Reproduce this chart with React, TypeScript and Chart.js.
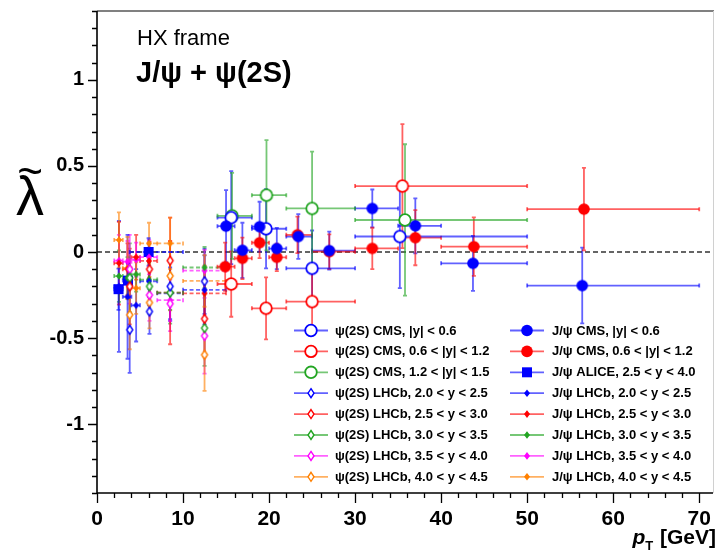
import React, { useEffect, useRef } from 'react';
import { Chart, registerables } from 'chart.js';
Chart.register(...registerables);

const FONT = '"Liberation Sans", Arial, Helvetica, sans-serif';

const BLUE = '#0000ff';
const RED = '#ff0000';
const GREEN = '#22a522';
const MAGENTA = '#ff00ff';
const ORANGE = '#ff8000';

// axis ticks
const xTickValues = [0, 10, 20, 30, 40, 50, 60, 70];
const yTickValues = [-1, -0.5, 0, 0.5, 1];
const X_MIN = 0, X_MAX = 71.6, Y_MIN = -1.4, Y_MAX = 1.4;

// ---- CMS psi(2S) ----
const psiCmsLo = [14, 18, 22, 30];
const psiCmsHi = [18, 22, 30, 50];
const psiCms06X = [15.6, 19.65, 25.0, 35.2];
const psiCms06Val = [0.2, 0.135, -0.095, 0.09];
const psiCms06Err = [0.27, 0.23, 0.22, 0.3];
const psiCms12X = [15.6, 19.65, 25.0, 35.5];
const psiCms12Val = [-0.186, -0.327, -0.288, 0.383];
const psiCms12Err = [0.19, 0.18, 0.17, 0.36];
const psiCms15X = [15.7, 19.7, 25.0, 35.8];
const psiCms15Val = [0.21, 0.33, 0.253, 0.186];
const psiCms15Err = [0.25, 0.32, 0.33, 0.44];

// ---- CMS J/psi ----
const jpsiCmsLo = [14, 16, 18, 20, 22, 25, 30, 35, 40, 50];
const jpsiCmsHi = [16, 18, 20, 22, 25, 30, 35, 40, 50, 70];
const jpsiCms06X = [15.0, 16.9, 18.9, 20.9, 23.4, 27.0, 32.0, 37.0, 43.7, 56.4];
const jpsiCms06Val = [0.15, 0.01, 0.147, 0.02, 0.09, 0.008, 0.253, 0.152, -0.066, -0.195];
const jpsiCms06Err = [0.21, 0.16, 0.145, 0.12, 0.13, 0.11, 0.11, 0.16, 0.16, 0.22];
const jpsiCms12X = [14.9, 16.9, 18.9, 20.9, 23.3, 27.0, 32.0, 37.0, 43.8, 56.6];
const jpsiCms12Val = [-0.085, -0.037, 0.054, -0.031, 0.1, 0.002, 0.021, 0.083, 0.031, 0.249];
const jpsiCms12Err = [0.14, 0.12, 0.09, 0.08, 0.106, 0.1, 0.12, 0.16, 0.17, 0.24];

// ---- ALICE J/psi ----
const aliceLo = [2, 3, 3.8];
const aliceHi = [3, 4, 10];
const aliceX = [2.5, 3.6, 6.0];
const aliceVal = [-0.216, -0.166, 0.0];
const aliceErr = [0.12, 0.1, 0.08];

// ---- LHCb J/psi ----
const jpsiLhcbLo = [2, 3, 4, 5, 7, 10];
const jpsiLhcbHi = [3, 4, 5, 7, 10, 15];
const jpsiLhcbX = [2.55, 3.55, 4.55, 6.05, 8.5, 12.5];
const jpsiLhcb20Val = [-0.2, -0.26, -0.31, -0.17, -0.24, -0.22];
const jpsiLhcb20Err = [0.38, 0.36, 0.21, 0.14, 0.15, 0.2];
const jpsiLhcb25Val = [-0.065, -0.1, -0.03, -0.052, -0.236, -0.24];
const jpsiLhcb25Err = [0.24, 0.15, 0.13, 0.1, 0.3, 0.16];
const jpsiLhcb30Val = [-0.14, -0.15, -0.13, -0.16, -0.236, -0.09];
const jpsiLhcb30Err = [0.15, 0.12, 0.1, 0.1, 0.1, 0.12];
const jpsiLhcb35Val = [-0.05, -0.056, -0.045, -0.03, -0.28, -0.108];
const jpsiLhcb35Err = [0.15, 0.12, 0.1, 0.1, 0.12, 0.12];
const jpsiLhcb40Val = [0.07, -0.093, -0.21, 0.05, 0.05, -0.168];
const jpsiLhcb40Err = [0.16, 0.18, 0.15, 0.12, 0.15, 0.15];

// ---- LHCb psi(2S) (no horizontal error bars drawn) ----
const psiLhcbX = [3.8, 6.1, 8.5, 12.5];
const psiLhcbLo = [3.8, 6.1, 8.5, 12.5];
const psiLhcbHi = [3.8, 6.1, 8.5, 12.5];
const psiLhcb20Val = [-0.452, -0.346, -0.2, -0.17];
const psiLhcb20Err = [0.25, 0.13, 0.2, 0.19];
const psiLhcb25Val = [-0.2, -0.1, -0.05, -0.388];
const psiLhcb25Err = [0.22, 0.16, 0.25, 0.22];
const psiLhcb30Val = [-0.15, -0.2, -0.236, -0.442];
const psiLhcb30Err = [0.2, 0.16, 0.18, 0.22];
const psiLhcb35Val = [-0.1, -0.25, -0.3, -0.487];
const psiLhcb35Err = [0.2, 0.15, 0.16, 0.22];
const psiLhcb40Val = [-0.365, -0.294, -0.139, -0.597];
const psiLhcb40Err = [0.2, 0.15, 0.2, 0.21];

type MStyle = 'open' | 'filled' | 'square' | 'openDiamond' | 'filledDiamond';
interface Series {
  key: string; label: string; color: string; style: MStyle; dashX: boolean;
  x: number[]; lo: number[]; hi: number[]; val: number[]; err: number[];
}

const S = (key: string, label: string, color: string, style: MStyle, dashX: boolean, x: number[], lo: number[], hi: number[], val: number[], err: number[]): Series =>
  ({ key, label, color, style, dashX, x, lo, hi, val, err });

const allSeries: Series[] = [
  S('pl20', 'ψ(2S) LHCb, 2.0 < y < 2.5', BLUE, 'openDiamond', false, psiLhcbX, psiLhcbLo, psiLhcbHi, psiLhcb20Val, psiLhcb20Err),
  S('pl25', 'ψ(2S) LHCb, 2.5 < y < 3.0', RED, 'openDiamond', false, psiLhcbX, psiLhcbLo, psiLhcbHi, psiLhcb25Val, psiLhcb25Err),
  S('pl30', 'ψ(2S) LHCb, 3.0 < y < 3.5', GREEN, 'openDiamond', false, psiLhcbX, psiLhcbLo, psiLhcbHi, psiLhcb30Val, psiLhcb30Err),
  S('pl35', 'ψ(2S) LHCb, 3.5 < y < 4.0', MAGENTA, 'openDiamond', false, psiLhcbX, psiLhcbLo, psiLhcbHi, psiLhcb35Val, psiLhcb35Err),
  S('pl40', 'ψ(2S) LHCb, 4.0 < y < 4.5', ORANGE, 'openDiamond', false, psiLhcbX, psiLhcbLo, psiLhcbHi, psiLhcb40Val, psiLhcb40Err),
  S('jl20', 'J/ψ LHCb, 2.0 < y < 2.5', BLUE, 'filledDiamond', true, jpsiLhcbX, jpsiLhcbLo, jpsiLhcbHi, jpsiLhcb20Val, jpsiLhcb20Err),
  S('jl25', 'J/ψ LHCb, 2.5 < y < 3.0', RED, 'filledDiamond', true, jpsiLhcbX, jpsiLhcbLo, jpsiLhcbHi, jpsiLhcb25Val, jpsiLhcb25Err),
  S('jl30', 'J/ψ LHCb, 3.0 < y < 3.5', GREEN, 'filledDiamond', true, jpsiLhcbX, jpsiLhcbLo, jpsiLhcbHi, jpsiLhcb30Val, jpsiLhcb30Err),
  S('jl35', 'J/ψ LHCb, 3.5 < y < 4.0', MAGENTA, 'filledDiamond', true, jpsiLhcbX, jpsiLhcbLo, jpsiLhcbHi, jpsiLhcb35Val, jpsiLhcb35Err),
  S('jl40', 'J/ψ LHCb, 4.0 < y < 4.5', ORANGE, 'filledDiamond', true, jpsiLhcbX, jpsiLhcbLo, jpsiLhcbHi, jpsiLhcb40Val, jpsiLhcb40Err),
  S('ja', 'J/ψ ALICE, 2.5 < y < 4.0', BLUE, 'square', true, aliceX, aliceLo, aliceHi, aliceVal, aliceErr),
  S('jc06', 'J/ψ CMS, |y| < 0.6', BLUE, 'filled', false, jpsiCms06X, jpsiCmsLo, jpsiCmsHi, jpsiCms06Val, jpsiCms06Err),
  S('jc12', 'J/ψ CMS, 0.6 < |y| < 1.2', RED, 'filled', false, jpsiCms12X, jpsiCmsLo, jpsiCmsHi, jpsiCms12Val, jpsiCms12Err),
  S('pc06', 'ψ(2S) CMS, |y| < 0.6', BLUE, 'open', false, psiCms06X, psiCmsLo, psiCmsHi, psiCms06Val, psiCms06Err),
  S('pc12', 'ψ(2S) CMS, 0.6 < |y| < 1.2', RED, 'open', false, psiCms12X, psiCmsLo, psiCmsHi, psiCms12Val, psiCms12Err),
  S('pc15', 'ψ(2S) CMS, 1.2 < |y| < 1.5', GREEN, 'open', false, psiCms15X, psiCmsLo, psiCmsHi, psiCms15Val, psiCms15Err),
];

const legendCol1 = ['pc06', 'pc12', 'pc15', 'pl20', 'pl25', 'pl30', 'pl35', 'pl40'];
const legendCol2 = ['jc06', 'jc12', 'ja', 'jl20', 'jl25', 'jl30', 'jl35', 'jl40'];

function rgba(hex: string, a: number) {
  const n = parseInt(hex.slice(1), 16);
  return `rgba(${(n >> 16) & 255},${(n >> 8) & 255},${n & 255},${a})`;
}

function drawMarker(g: CanvasRenderingContext2D, x: number, y: number, style: MStyle, color: string) {
  g.save();
  g.beginPath();
  if (style === 'open' || style === 'filled') {
    g.arc(x, y, 5.8, 0, Math.PI * 2);
    if (style === 'open') { g.fillStyle = '#fff'; g.fill(); g.lineWidth = 1.8; g.strokeStyle = color; g.stroke(); }
    else { g.fillStyle = color; g.fill(); }
  } else if (style === 'square') {
    g.rect(x - 5, y - 5, 10, 10); g.fillStyle = color; g.fill();
  } else if (style === 'openDiamond') {
    g.moveTo(x, y - 4.5); g.lineTo(x + 3, y); g.lineTo(x, y + 4.5); g.lineTo(x - 3, y); g.closePath();
    g.fillStyle = '#fff'; g.fill(); g.lineWidth = 1.4; g.strokeStyle = color; g.stroke();
  } else {
    g.moveTo(x, y - 3.8); g.lineTo(x + 3, y); g.lineTo(x, y + 3.8); g.lineTo(x - 3, y); g.closePath();
    g.fillStyle = color; g.fill();
  }
  g.restore();
}

function markerCanvas(style: MStyle, color: string) {
  const c = document.createElement('canvas');
  c.width = 16; c.height = 16;
  const g = c.getContext('2d')!;
  drawMarker(g, 8, 8, style, color);
  return c;
}

const decoPlugin = {
  id: 'deco',
  beforeDatasetsDraw(chart: any) {
    const { ctx, chartArea: a, scales } = chart;
    const xs = scales.x, ys = scales.y;
    ctx.save();
    ctx.setLineDash([5, 3]);
    ctx.strokeStyle = '#333';
    ctx.lineWidth = 1.5;
    const y0 = ys.getPixelForValue(0);
    ctx.beginPath(); ctx.moveTo(a.left, y0); ctx.lineTo(a.right, y0); ctx.stroke();
    ctx.restore();

    chart.data.datasets.forEach((ds: any, i: number) => {
      const s: Series = allSeries[i];
      ctx.save();
      ctx.strokeStyle = rgba(s.color, 0.62);
      ctx.lineWidth = 1.8;
      // vertical bars (solid)
      ctx.beginPath();
      ds.data.forEach((p: any) => {
        const px = xs.getPixelForValue(p.x);
        const yt = ys.getPixelForValue(p.y + p.err), yb = ys.getPixelForValue(p.y - p.err);
        ctx.moveTo(px, yt); ctx.lineTo(px, yb);
        ctx.moveTo(px - 2, yt); ctx.lineTo(px + 2, yt);
        ctx.moveTo(px - 2, yb); ctx.lineTo(px + 2, yb);
      });
      ctx.stroke();
      // horizontal bars
      ctx.beginPath();
      if (s.dashX) ctx.setLineDash([4, 2.5]);
      ds.data.forEach((p: any) => {
        if (p.hi - p.lo <= 0) return;
        const py = ys.getPixelForValue(p.y);
        const xl = xs.getPixelForValue(p.lo), xh = xs.getPixelForValue(p.hi);
        ctx.moveTo(xl, py); ctx.lineTo(xh, py);
      });
      ctx.stroke();
      ctx.setLineDash([]);
      ctx.beginPath();
      ds.data.forEach((p: any) => {
        if (p.hi - p.lo <= 0) return;
        const py = ys.getPixelForValue(p.y);
        const xl = xs.getPixelForValue(p.lo), xh = xs.getPixelForValue(p.hi);
        ctx.moveTo(xl, py - 2); ctx.lineTo(xl, py + 2);
        ctx.moveTo(xh, py - 2); ctx.lineTo(xh, py + 2);
      });
      ctx.stroke();
      ctx.restore();
    });
  },
  afterDraw(chart: any) {
    const { ctx, chartArea: a, scales } = chart;
    const xs = scales.x, ys = scales.y;
    ctx.save();
    // frame
    ctx.strokeStyle = '#808080'; ctx.lineWidth = 2;
    ctx.beginPath(); ctx.moveTo(a.left, a.top); ctx.lineTo(a.right + 1, a.top); ctx.stroke();
    ctx.strokeStyle = '#d0d0d0'; ctx.lineWidth = 1;
    ctx.beginPath(); ctx.moveTo(a.right + 0.5, a.top); ctx.lineTo(a.right + 0.5, a.bottom); ctx.stroke();
    ctx.strokeStyle = '#000'; ctx.lineWidth = 1.6;
    ctx.beginPath();
    ctx.moveTo(a.left, a.top); ctx.lineTo(a.left, a.bottom); ctx.lineTo(a.right, a.bottom);
    ctx.stroke();
    // ticks
    ctx.lineWidth = 1.3;
    ctx.beginPath();
    for (let k = -14; k <= 14; k++) {
      const v = k / 10;
      const py = Math.round(ys.getPixelForValue(v)) + 0.5;
      const len = k % 5 === 0 ? 9 : 5;
      ctx.moveTo(a.left, py); ctx.lineTo(a.left - len, py);
    }
    for (let v = 0; v <= 70; v += 2) {
      const px = Math.round(xs.getPixelForValue(v)) + 0.5;
      const len = v % 10 === 0 ? 10 : 5;
      ctx.moveTo(px, a.bottom); ctx.lineTo(px, a.bottom + len);
    }
    ctx.stroke();

    // titles
    ctx.fillStyle = '#000';
    ctx.textAlign = 'left';
    ctx.textBaseline = 'alphabetic';
    ctx.font = `22px ${FONT}`;
    ctx.fillText('HX frame', 137, 45);
    ctx.font = `bold 29px ${FONT}`;
    ctx.fillText('J/ψ + ψ(2S)', 136, 82);

    // y title
    ctx.textAlign = 'center';
    ctx.font = `56px ${FONT}`;
    ctx.fillText('λ', 30, 215);
    ctx.font = `44px ${FONT}`;
    ctx.fillText('~', 30, 186);

    // x title
    ctx.textAlign = 'left';
    const fMain = `bold 21px ${FONT}`;
    const fIt = `italic bold 21px ${FONT}`;
    const fSub = `bold 13px ${FONT}`;
    ctx.font = fIt; const wp = ctx.measureText('p').width;
    ctx.font = fSub; const wt = ctx.measureText('T').width;
    ctx.font = fMain; const wg = ctx.measureText(' [GeV]').width;
    let xx = 716 - (wp + wt + wg + 1);
    ctx.font = fIt; ctx.fillText('p', xx, 544); xx += wp;
    ctx.font = fSub; ctx.fillText('T', xx, 550); xx += wt + 1;
    ctx.font = fMain; ctx.fillText(' [GeV]', xx, 544);

    // legend
    const byKey: Record<string, Series> = {};
    allSeries.forEach((s) => { byKey[s.key] = s; });
    const drawCol = (keys: string[], mx: number, tx: number) => {
      keys.forEach((k, r) => {
        const s = byKey[k];
        const y = 330.5 + r * 20.9;
        ctx.strokeStyle = rgba(s.color, 0.62); ctx.lineWidth = 1.8;
        ctx.beginPath(); ctx.moveTo(mx - 17, y); ctx.lineTo(mx + 17, y); ctx.stroke();
        drawMarker(ctx, mx, y, s.style, s.color);
        ctx.fillStyle = '#000';
        ctx.font = `bold 13px ${FONT}`;
        ctx.textBaseline = 'middle';
        ctx.textAlign = 'left';
        ctx.fillText(s.label, tx, y + 0.5);
      });
    };
    drawCol(legendCol1, 311, 335);
    drawCol(legendCol2, 527, 552);
    ctx.restore();
  },
};

export default function App() {
  const ref = useRef<HTMLCanvasElement>(null);
  useEffect(() => {
    const datasets = allSeries.map((s) => ({
      label: s.label,
      data: s.x.map((x, i) => ({ x, y: s.val[i], lo: s.lo[i], hi: s.hi[i], err: s.err[i] })),
      pointStyle: markerCanvas(s.style, s.color),
      pointRadius: 6,
      pointHoverRadius: 6,
      showLine: false,
    }));
    const chart = new Chart(ref.current!, {
      type: 'scatter',
      data: { datasets },
      plugins: [decoPlugin],
      options: {
        responsive: false,
        animation: false,
        devicePixelRatio: 1,
        layout: { padding: { top: 11, right: 1, left: 0, bottom: 0 } },
        plugins: { legend: { display: false }, tooltip: { enabled: false } },
        scales: {
          x: {
            type: 'linear', min: X_MIN, max: X_MAX, position: 'bottom',
            grid: { display: false, drawTicks: false }, border: { display: false },
            ticks: { font: { family: FONT, size: 21, weight: 'bold' }, color: '#000', padding: 14, maxRotation: 0, autoSkip: false, callback: (v: any) => String(v) },
            afterBuildTicks: (s: any) => { s.ticks = xTickValues.map((v) => ({ value: v })); },
            afterFit: (s: any) => { s.height = 59; s.paddingLeft = 0; s.paddingRight = 0; },
          },
          y: {
            type: 'linear', min: Y_MIN, max: Y_MAX, position: 'left',
            grid: { display: false, drawTicks: false }, border: { display: false },
            ticks: { font: { family: FONT, size: 20, weight: 'bold' }, color: '#000', padding: 13, autoSkip: false, callback: (v: any) => String(v) },
            afterBuildTicks: (s: any) => { s.ticks = yTickValues.map((v) => ({ value: v })); },
            afterFit: (s: any) => { s.width = 97; s.paddingTop = 0; s.paddingBottom = 0; },
          },
        },
      } as any,
    });
    return () => chart.destroy();
  }, []);
  return (
    <div style={{ position: 'fixed', left: 0, top: 0, width: 720, height: 552, background: '#fff' }}>
      <canvas ref={ref} width={720} height={552} style={{ display: 'block', width: 720, height: 552 }} />
    </div>
  );
}
